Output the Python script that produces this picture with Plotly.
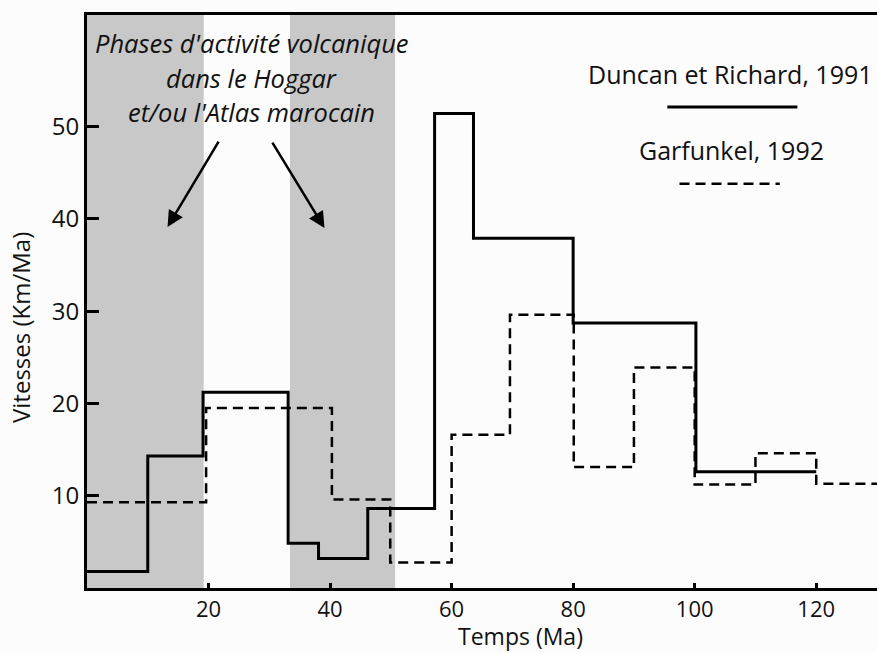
import plotly.graph_objects as go

# Duncan et Richard, 1991 (solid) : bin edges (Ma) and speeds (Km/Ma)
duncan_edges = [0, 10, 19.1, 33.1, 38.1, 46.2, 57.2, 63.6, 80, 100.2, 120]
duncan_values = [1.8, 14.3, 21.2, 4.85, 3.2, 8.6, 51.4, 37.9, 28.7, 12.6]

# Garfunkel, 1992 (dashed)
garf_edges = [0, 19.6, 40.3, 49.9, 60, 69.6, 80.1, 90, 100, 110, 120, 130]
garf_values = [9.3, 19.5, 9.6, 2.75, 16.6, 29.6, 13.1, 23.9, 11.2, 14.6, 11.3]

# volcanic activity phases (Ma)
phase_starts = [0, 33.4]
phase_ends = [19.2, 50.7]

x_ticks = [20, 40, 60, 80, 100, 120]
y_ticks = [10, 20, 30, 40, 50]

annot_lines = ["Phases d'activité volcanique", "dans le Hoggar", "et/ou l'Atlas marocain"]
legend_labels = ["Duncan et Richard, 1991", "Garfunkel, 1992"]

FONT = "Open Sans"
fig = go.Figure()

fig.add_trace(go.Scatter(
    x=duncan_edges, y=duncan_values + [duncan_values[-1]],
    mode="lines", line=dict(shape="hv", color="black", width=3),
    showlegend=False, hoverinfo="skip"))
fig.add_trace(go.Scatter(
    x=garf_edges, y=garf_values + [garf_values[-1]],
    mode="lines", line=dict(shape="hv", color="black", width=2.5, dash="10px,6px"),
    showlegend=False, hoverinfo="skip"))

shapes = []
for s, e in zip(phase_starts, phase_ends):
    shapes.append(dict(type="rect", xref="x", yref="paper", x0=s, x1=e, y0=0, y1=1,
                       fillcolor="#c8c8c8", line=dict(width=0), layer="below"))
# legend sample lines
shapes.append(dict(type="line", xref="x", yref="y", x0=95.5, x1=116.9, y0=52.1, y1=52.1,
                   line=dict(color="black", width=3)))
shapes.append(dict(type="line", xref="x", yref="y", x0=97.5, x1=114.0, y0=43.8, y1=43.8,
                   line=dict(color="black", width=2.5, dash="10px,6px")))

annotations = []
for txt, yy in zip(annot_lines, [59.0, 55.3, 51.6]):
    annotations.append(dict(x=27.07, y=yy, xref="x", yref="y", text="<i>" + txt + "</i>",
                            showarrow=False, font=dict(family=FONT, size=25.5, color="#111"),
                            xanchor="center", yanchor="middle"))
# arrows
annotations.append(dict(x=13.25, y=39.1, xref="x", yref="y", ax=52, ay=-87, text="",
                        showarrow=True, arrowhead=2, arrowsize=1.3, arrowwidth=2.5,
                        arrowcolor="black"))
annotations.append(dict(x=39.08, y=39.0, xref="x", yref="y", ax=-53, ay=-87, text="",
                        showarrow=True, arrowhead=2, arrowsize=1.3, arrowwidth=2.5,
                        arrowcolor="black"))
# legend texts
annotations.append(dict(x=105.9, y=55.7, xref="x", yref="y", text=legend_labels[0],
                        showarrow=False, font=dict(family=FONT, size=25, color="#111"),
                        xanchor="center", yanchor="middle"))
annotations.append(dict(x=106.0, y=47.45, xref="x", yref="y", text=legend_labels[1],
                        showarrow=False, font=dict(family=FONT, size=25, color="#111"),
                        xanchor="center", yanchor="middle"))
# axis titles
annotations.append(dict(x=-0.0835, y=0.4538, xref="paper", yref="paper", text="Vitesses (Km/Ma)",
                        textangle=-90, showarrow=False, font=dict(family=FONT, size=24, color="#111"),
                        xanchor="center", yanchor="middle"))
annotations.append(dict(x=0.549, y=-0.1134, xref="paper", yref="paper", text="Temps (Ma)",
                        showarrow=False, font=dict(family=FONT, size=23, color="#111"),
                        xanchor="center", yanchor="bottom", borderpad=0))

fig.update_layout(
    width=877, height=653,
    margin=dict(l=87, r=0, t=15, b=65, autoexpand=False),
    paper_bgcolor="#fcfcfc", plot_bgcolor="#fcfcfc",
    shapes=shapes, annotations=annotations,
    font=dict(family=FONT, size=22, color="#111"),
    xaxis=dict(range=[0, 130], tickvals=x_ticks, ticks="inside", ticklen=5, tickwidth=2.5,
               tickcolor="black", showline=True, linewidth=3, linecolor="black", mirror=True,
               showgrid=False, zeroline=False, tickfont=dict(family=FONT, size=22, color="#111"),
               ticklabelstandoff=0, automargin=False),
    yaxis=dict(range=[0, 62.08], tickvals=y_ticks, ticks="inside", ticklen=12, tickwidth=3,
               tickcolor="black", showline=True, linewidth=3, linecolor="black",
               showgrid=False, zeroline=False, tickfont=dict(family=FONT, size=24, color="#111"),
               ticklabelstandoff=0, automargin=False),
)

fig.write_html("out.html", config={"displayModeBar": False},
               post_script="document.body.style.margin='0';document.body.style.overflow='hidden';")
